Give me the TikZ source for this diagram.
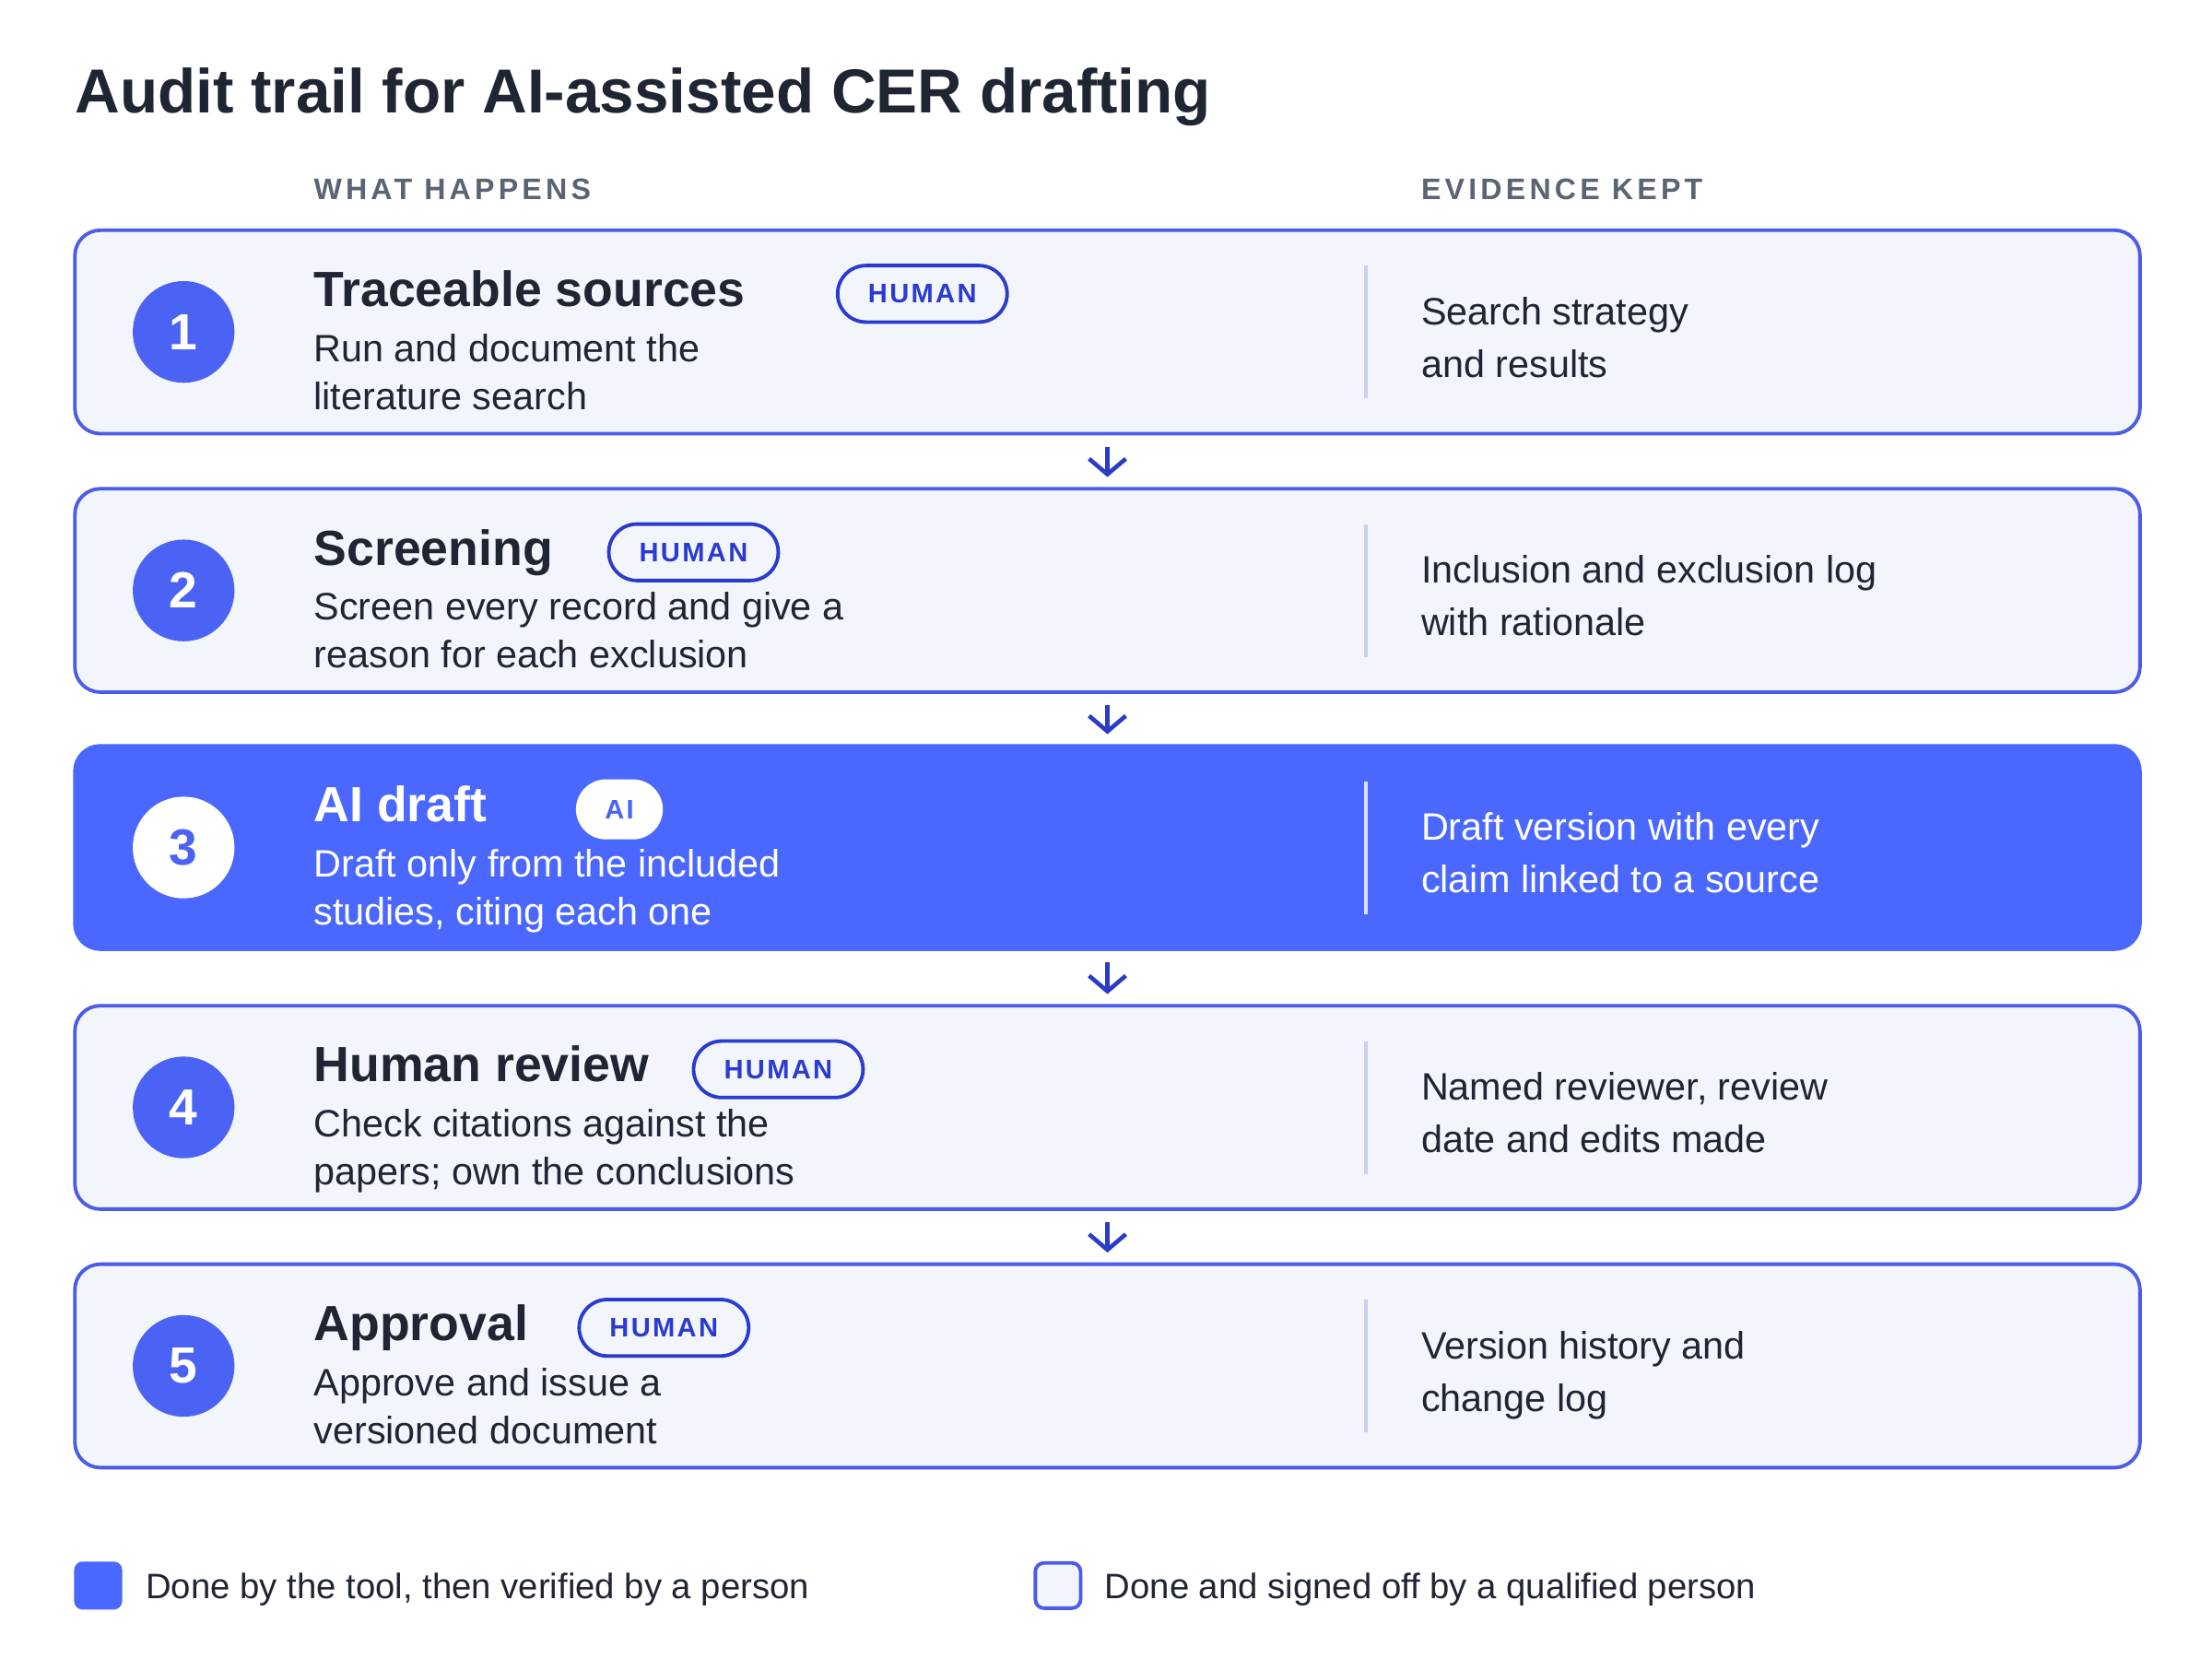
\documentclass[tikz,border=0pt]{standalone}
\usepackage{fontspec}
\setmainfont{Liberation Sans}
\usetikzlibrary{arrows.meta}
\definecolor{bdr}{HTML}{4A5CE8}
\definecolor{bfill}{HTML}{F3F5FD}
\definecolor{accent}{HTML}{4A68FF}
\definecolor{circ}{HTML}{4A63F5}
\definecolor{ink}{HTML}{1F2533}
\definecolor{badge}{HTML}{2A3BD0}
\definecolor{arr}{HTML}{2A3BC8}
\definecolor{gray}{HTML}{5A6474}
\definecolor{divl}{HTML}{C8D0F0}
\newcommand{\fs}[1]{\fontsize{#1}{#1}\selectfont}
\begin{document}
\begin{tikzpicture}[x=1pt,y=-1pt,
  box/.style={draw=bdr,line width=2.5pt,fill=bfill,rounded corners=18pt,minimum width=1462pt,minimum height=144pt,inner sep=0pt},
  hbox/.style={box,fill=accent,draw=accent},
  num/.style={circle,fill=circ,minimum size=72pt,inner sep=0pt,text=white,font=\bfseries\fs{36}},
  ttl/.style={anchor=base west,inner sep=0pt,text=ink,font=\bfseries\fs{35}},
  txt/.style={anchor=base west,inner sep=0pt,text=ink,font=\fs{27},align=left},
  pill/.style={draw=badge,line width=2.5pt,rounded corners=20pt,minimum height=40pt,inner sep=0pt,text=badge,font=\bfseries\fs{19}\addfontfeatures{LetterSpace=8}},
  hd/.style={anchor=base west,inner sep=0pt,text=gray,font=\bfseries\fs{21}\addfontfeatures{LetterSpace=13}},
  arw/.style={draw=arr,line width=3pt,-{Straight Barb[length=11pt,width=26pt,line width=3pt]},shorten <=8pt,shorten >=7pt},
  dv/.style={draw=divl,line width=2.5pt}
]
\useasboundingbox[fill=white] (0,0) rectangle (1566,1174.5);
\node[anchor=base west,inner sep=0pt,text=ink,font=\bfseries\fs{44}] (title) at (53,80) {Audit trail for AI-assisted CER drafting};
\node[hd] (h1) at (222,141) {WHAT HAPPENS};
\node[hd] (h2) at (1006,141) {EVIDENCE KEPT};
\newcommand{\arow}[9]{%
  \node[box] (b#1) at (784,#2+73) {};
  \draw[dv] (967,#2+26) -- (967,#2+120);
  \node[num] (n#1) at (130,#2+73) {#1};
  \node[ttl] (t#1) at (222,#2+55) {#3};
  \node[pill,minimum width=#5pt] (p#1) at (#4,#2+46) {HUMAN};
  \node[txt] (d#1) at (222,#2+94) {#6};
  \node[txt] (e#1) at (222,#2+128) {#7};
  \node[txt] (v#1) at (1006,#2+68) {#8};
  \node[txt] (w#1) at (1006,#2+105) {#9};
}
\arow{1}{162}{Traceable sources}{653}{120}{Run and document the}{literature search}{Search strategy}{and results}
\arow{2}{345}{Screening}{491}{120}{Screen every record and give a}{reason for each exclusion}{Inclusion and exclusion log}{with rationale}
\arow{4}{711}{Human review}{551}{120}{Check citations against the}{papers; own the conclusions}{Named reviewer, review}{date and edits made}
\arow{5}{894}{Approval}{470}{120}{Approve and issue a}{versioned document}{Version history and}{change log}
\node[hbox] (b3) at (784,600) {};
\draw[draw=white!80!accent,line width=2.5pt] (967,553) -- (967,647);
\node[num,fill=white,text=circ] (n3) at (130,600) {3};
\node[ttl,text=white] (t3) at (222,582) {AI draft};
\node[pill,fill=white,draw=white,minimum width=59pt,text=circ] (p3) at (438.5,573) {AI};
\node[txt,text=white] (d3) at (222,621) {Draft only from the included};
\node[txt,text=white] (e3) at (222,655) {studies, citing each one};
\node[txt,text=white] (v3) at (1006,595) {Draft version with every};
\node[txt,text=white] (w3) at (1006,632) {claim linked to a source};
\draw[arw] (b1.south) -- (b2.north);
\draw[arw] (b2.south) -- (b3.north);
\draw[arw] (b3.south) -- (b4.north);
\draw[arw] (b4.south) -- (b5.north);
\node[draw=accent,fill=accent,line width=2pt,rounded corners=5pt,minimum size=32pt,inner sep=0pt] (l1) at (69.5,1122.5) {};
\node[txt,font=\fs{25}] (lt1) at (103,1132) {Done by the tool, then verified by a person};
\node[draw=bdr,fill=bfill,line width=2.5pt,rounded corners=6pt,minimum size=32pt,inner sep=0pt] (l2) at (749,1122.5) {};
\node[txt,font=\fs{25}] (lt2) at (782,1132) {Done and signed off by a qualified person};
\end{tikzpicture}
\end{document}
